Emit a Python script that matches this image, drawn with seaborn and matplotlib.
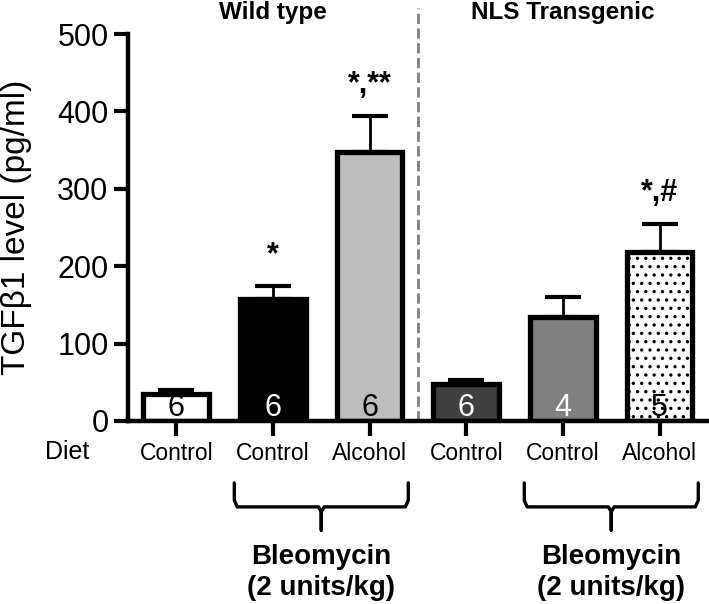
import numpy as np
import pandas as pd
import matplotlib
matplotlib.use('Agg')
import matplotlib.pyplot as plt
import matplotlib.transforms as mtransforms
import seaborn as sns

# data
groups = ['WT Control', 'WT Bleo Control', 'WT Bleo Alcohol',
          'NLS Control', 'NLS Bleo Control', 'NLS Bleo Alcohol']
diet = ['Control', 'Control', 'Alcohol', 'Control', 'Control', 'Alcohol']
mean_tgf = [35, 158, 348, 48, 134, 219]
sem_tgf = [5, 16, 46, 5, 26, 35]
n_mice = [6, 6, 6, 6, 4, 5]
signif = ['', '*', '*,**', '', '', '*,#']
bar_colors = ['#ffffff', '#000000', '#bdbdbd', '#404040', '#808080', '#ffffff']
num_colors = ['black', 'white', 'black', 'white', 'white', 'black']

df = pd.DataFrame({'group': groups, 'tgf': mean_tgf})

sns.set_style('ticks')
plt.rcParams['font.family'] = ['Liberation Sans', 'DejaVu Sans']
plt.rcParams['hatch.linewidth'] = 1.2
plt.rcParams['text.color'] = 'black'
plt.rcParams['axes.labelcolor'] = 'black'
plt.rcParams['xtick.color'] = 'black'
plt.rcParams['ytick.color'] = 'black'
plt.rcParams['axes.edgecolor'] = 'black'

fig = plt.figure(figsize=(7.09, 6.04), dpi=100)
ax = fig.add_axes([0.1805, 0.303, 0.818, 0.6405])

sns.barplot(data=df, x='group', y='tgf', hue='group', palette=bar_colors,
            legend=False, edgecolor='black', linewidth=3.8, width=0.68,
            saturation=1, ax=ax)
ax.patches[5].set_hatch('..')

xs = np.arange(len(groups))
ax.errorbar(xs, mean_tgf, yerr=[np.zeros(len(groups)), sem_tgf], fmt='none',
            ecolor='black', elinewidth=2, capsize=13, capthick=3, zorder=0.5)

# n per group inside bars
for i in range(len(groups)):
    ax.text(xs[i], 17, str(n_mice[i]), ha='center', va='center',
            fontsize=22, color=num_colors[i])
    if signif[i]:
        ax.text(xs[i], mean_tgf[i] + sem_tgf[i] + 30, signif[i], ha='center',
                va='baseline', fontsize=22, fontweight='bold')

ax.set_xlim(-0.5, 5.5)
ax.set_ylim(0, 500)
ax.set_yticks([0, 100, 200, 300, 400, 500])
ax.set_xticks(xs)
ax.set_xticklabels(diet, fontsize=16.5)
ax.set_xlabel('')
ax.set_ylabel('TGFβ1 level (pg/ml)', fontsize=24)
ax.yaxis.set_label_coords(-0.165, 0.5)
ax.tick_params(axis='y', labelsize=22, width=3, length=10, pad=4)
ax.tick_params(axis='x', width=3, length=11, pad=4)
sns.despine(ax=ax)
for s in ['left', 'bottom']:
    ax.spines[s].set_linewidth(3.2)

# separator between genotypes
ax.axvline(2.5, ymin=0, ymax=1.067, color='#808080', ls='--', lw=2,
           clip_on=False, zorder=0)

trans = mtransforms.blended_transform_factory(ax.transData, ax.transAxes)
ax.text(1, 1.057, 'Wild type', transform=trans, ha='center', va='center',
        fontsize=17.5, fontweight='bold')
ax.text(4, 1.057, 'NLS Transgenic', transform=trans, ha='center', va='center',
        fontsize=17.5, fontweight='bold')
ax.text(-1.13, -0.08, 'Diet', transform=trans, ha='center', va='center',
        fontsize=18)

# braces for bleomycin groups
for c in [1.5, 4.5]:
    bx = [c - 0.9, c - 0.9, c - 0.87, c - 0.03, c, c, c, c + 0.03, c + 0.87, c + 0.9, c + 0.9]
    by = [-0.16, -0.205, -0.222, -0.222, -0.235, -0.282, -0.235, -0.222, -0.222, -0.205, -0.16]
    ax.plot(bx, by, color='black', lw=2.4, transform=trans, clip_on=False,
            solid_joinstyle='round')
    ax.text(c, -0.392, 'Bleomycin\n(2 units/kg)', transform=trans, ha='center',
            va='center', fontsize=20, fontweight='bold', linespacing=1.25)

fig.savefig('out.png', dpi=100)
